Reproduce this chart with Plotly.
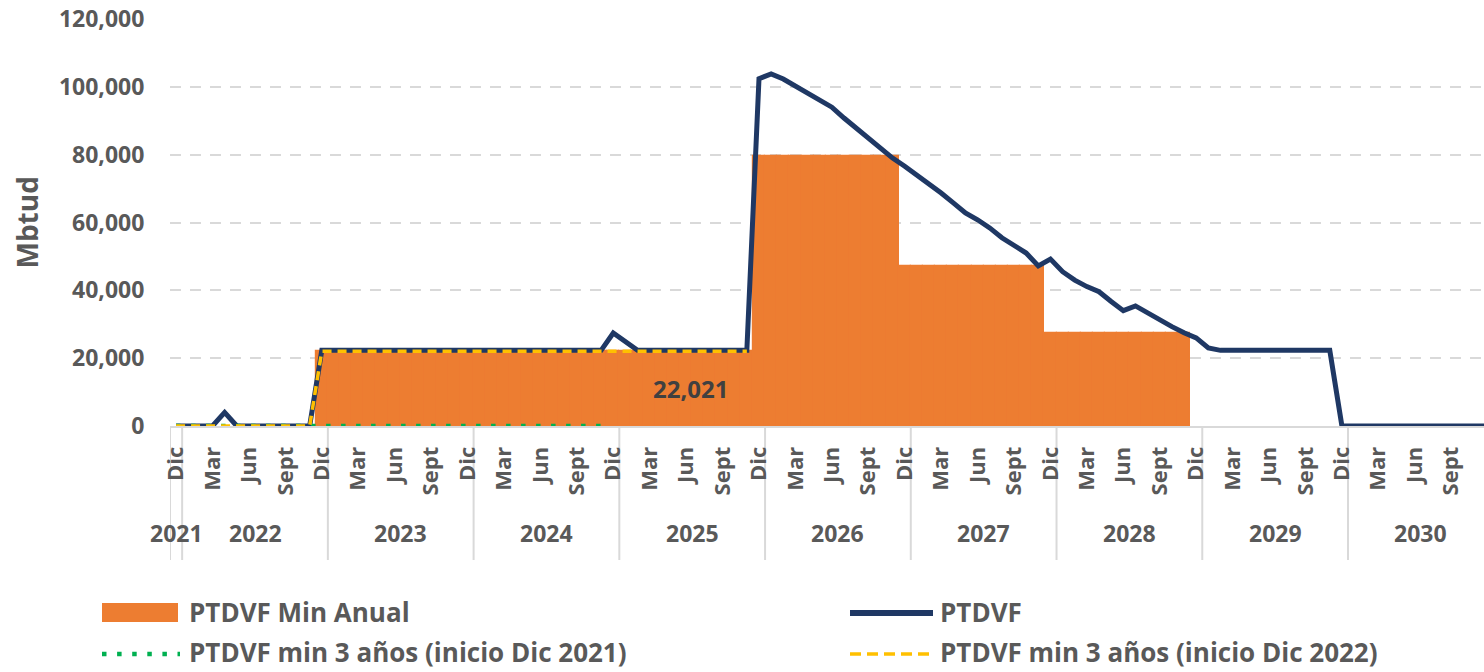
import plotly.graph_objects as go

# ---------------- data ----------------
MONTHS = ["Ene", "Feb", "Mar", "Abr", "May", "Jun", "Jul", "Ago", "Sept", "Oct", "Nov", "Dic"]
YEARS = [2022, 2023, 2024, 2025, 2026, 2027, 2028, 2029, 2030]
FIRST_CAT = "Dic 2021"
SHOWN_MONTHS = ["Dic", "Mar", "Jun", "Sept"]
YEAR_LABELS = ["2021", "2022", "2023", "2024", "2025", "2026", "2027", "2028", "2029", "2030"]

categories = [FIRST_CAT] + [f"{m} {y}" for y in YEARS for m in MONTHS]

ptdvf = [
    0, 0, 0, 0, 4000, 0, 0, 0, 0, 0, 0, 0,
    22300, 22300, 22300, 22300, 22300, 22300, 22300, 22300, 22300, 22300, 22300, 22300,
    22300, 22300, 22300, 22300, 22300, 22300, 22300, 22300, 22300, 22300, 22300, 22300,
    27400, 25000, 22300, 22300, 22300, 22300, 22300, 22300, 22300, 22300, 22300, 22300,
    102400, 103800, 102300, 100300, 98100, 96200, 94000, 90800, 87900, 85000, 82000, 79000,
    76600, 74000, 71600, 68700, 65800, 62800, 60800, 58400, 55500, 53400, 51000, 47200,
    49200, 45500, 43000, 41100, 39600, 36700, 34000, 35400, 33300, 31300, 29300, 27500,
    26000, 23000, 22300, 22300, 22300, 22300, 22300, 22300, 22300, 22300, 22300, 22300,
    0, 0, 0, 0, 0, 0, 0, 0, 0, 0, 0, 0, 0,
]

min_anual = [
    0, 0, 0, 0, 0, 0, 0, 0, 0, 0, 0, 0,
    22021, 22021, 22021, 22021, 22021, 22021, 22021, 22021, 22021, 22021, 22021, 22021,
    22021, 22021, 22021, 22021, 22021, 22021, 22021, 22021, 22021, 22021, 22021, 22021,
    22021, 22021, 22021, 22021, 22021, 22021, 22021, 22021, 22021, 22021, 22021, 22021,
    79500, 79500, 79500, 79500, 79500, 79500, 79500, 79500, 79500, 79500, 79500, 79500,
    47200, 47200, 47200, 47200, 47200, 47200, 47200, 47200, 47200, 47200, 47200, 47200,
    27300, 27300, 27300, 27300, 27300, 27300, 27300, 27300, 27300, 27300, 27300, 27300,
    0, 0, 0, 0, 0, 0, 0, 0, 0, 0, 0, 0,
    0, 0, 0, 0, 0, 0, 0, 0, 0, 0, 0, 0, 0,
]

min3_2021 = [
    0, 0, 0, 0, 0, 0, 0, 0, 0, 0, 0, 0,
    0, 0, 0, 0, 0, 0, 0, 0, 0, 0, 0, 0,
    0, 0, 0, 0, 0, 0, 0, 0, 0, 0, 0, 0,
]

min3_2022 = [
    0, 0, 0, 0, 0, 0, 0, 0, 0, 0, 0, 0,
    22021, 22021, 22021, 22021, 22021, 22021, 22021, 22021, 22021, 22021, 22021, 22021,
    22021, 22021, 22021, 22021, 22021, 22021, 22021, 22021, 22021, 22021, 22021, 22021,
    22021, 22021, 22021, 22021, 22021, 22021, 22021, 22021, 22021, 22021, 22021, 22021,
]

LABEL_VALUE = 22021
LABEL_CAT = "Jun 2025"

NAMES = ["PTDVF Min Anual", "PTDVF", "PTDVF min 3 años (inicio Dic 2021)", "PTDVF min 3 años (inicio Dic 2022)"]

# ---------------- style ----------------
ORANGE = "#ED7D31"
NAVY = "#1F3864"
GREEN = "#00B050"
YELLOW = "#FFC000"
GRID = "#D9D9D9"
TXT = "#595959"
FONT = "Open Sans"

W, H = 1484, 672
ML, MR, MT, MB = 170, 0, 19, 246
PW, PH = W - ML - MR, H - MT - MB


def px(X):
    return (X - ML) / PW


def py(Y):
    return (H - MB - Y) / PH


fig = go.Figure()

bar_edge = [1.2 if v else 0 for v in min_anual]
fig.add_trace(go.Bar(
    x=categories, y=min_anual, name=NAMES[0],
    marker=dict(color=ORANGE, line=dict(color=ORANGE, width=bar_edge)),
    width=1.0, showlegend=False, hoverinfo="skip",
))
fig.add_trace(go.Scatter(
    x=categories, y=ptdvf, name=NAMES[1], mode="lines",
    line=dict(color=NAVY, width=5), showlegend=False,
))
fig.add_trace(go.Scatter(
    x=categories[:len(min3_2021)], y=min3_2021, name=NAMES[2], mode="lines",
    line=dict(color=GREEN, width=4.5, dash="4.5px,10.5px"), showlegend=False,
))
fig.add_trace(go.Scatter(
    x=categories[:len(min3_2022)], y=min3_2022, name=NAMES[3], mode="lines",
    line=dict(color=YELLOW, width=3.5, dash="9px,6px"), showlegend=False,
))

# month tick labels
tickvals, ticktext = [], []
for c in categories:
    m = c.split(" ")[0]
    if m in SHOWN_MONTHS:
        tickvals.append(c)
        ticktext.append(m)

shapes = []
annotations = []

# year group dividers and labels
boundaries = [-0.5, 0.5] + [0.5 + 12 * (i + 1) for i in range(len(YEARS))]
for b in boundaries:
    if b <= len(categories) - 1:
        shapes.append(dict(type="line", xref="x", yref="paper", x0=b, x1=b,
                           y0=0, y1=py(560), line=dict(color=GRID, width=2), layer="below"))
year_centers = [0] + [0.5 + 12 * i + 6 for i in range(len(YEARS))]
for yl, xc in zip(YEAR_LABELS, year_centers):
    annotations.append(dict(x=xc, y=py(533), xref="x", yref="paper", text=yl, showarrow=False,
                            font=dict(family=FONT, size=23, color=TXT, weight="bold"),
                            xanchor="center", yanchor="middle"))

# data label
annotations.append(dict(x=LABEL_CAT, y=LABEL_VALUE / 2, xref="x", yref="y", text=f"{LABEL_VALUE:,}",
                        showarrow=False, xshift=4,
                        font=dict(family=FONT, size=24, color="#404040", weight="bold")))

# y-axis title
annotations.append(dict(x=px(26), y=0.5, xref="paper", yref="paper", text="Mbtud", textangle=-90,
                        showarrow=False, xanchor="center", yanchor="middle",
                        font=dict(family=FONT, size=28, color=TXT, weight="bold")))

# manual legend
LEGF = dict(family=FONT, size=26, color=TXT, weight="bold")
shapes.append(dict(type="rect", xref="paper", yref="paper", x0=px(102), x1=px(178), y0=py(622), y1=py(603),
                   fillcolor=ORANGE, line=dict(width=0)))
shapes.append(dict(type="line", xref="paper", yref="paper", x0=px(850), x1=px(933), y0=py(613), y1=py(613),
                   line=dict(color=NAVY, width=6)))
shapes.append(dict(type="line", xref="paper", yref="paper", x0=px(102), x1=px(180), y0=py(654), y1=py(654),
                   line=dict(color=GREEN, width=4.5, dash="4.5px,10.6px")))
shapes.append(dict(type="line", xref="paper", yref="paper", x0=px(850), x1=px(934), y0=py(654), y1=py(654),
                   line=dict(color=YELLOW, width=3.5, dash="11px,6px")))
for name, X, Y in [(NAMES[0], 187, 612), (NAMES[1], 938, 612), (NAMES[2], 187, 652), (NAMES[3], 938, 652)]:
    annotations.append(dict(x=px(X), y=py(Y), xref="paper", yref="paper", text=name, showarrow=False,
                            xanchor="left", yanchor="middle", font=LEGF))

fig.update_layout(
    width=W, height=H,
    margin=dict(l=ML, r=MR, t=MT, b=MB),
    paper_bgcolor="white", plot_bgcolor="white",
    bargap=0, showlegend=False,
    shapes=shapes, annotations=annotations,
    font=dict(family=FONT, color=TXT),
    xaxis=dict(
        type="category", categoryorder="array", categoryarray=categories,
        range=[-0.5, 107.7],
        tickmode="array", tickvals=tickvals, ticktext=ticktext, tickangle=-90,
        tickfont=dict(family=FONT, size=22, color=TXT, weight="bold"),
        ticks="outside", ticklen=10, tickcolor="rgba(0,0,0,0)",
        showgrid=False, showline=True, linecolor=GRID, linewidth=2, zeroline=False,
    ),
    yaxis=dict(
        range=[0, 120000], tickmode="array",
        tickvals=[0, 20000, 40000, 60000, 80000, 100000, 120000],
        tickformat=",", tickfont=dict(family=FONT, size=23, color=TXT, weight="bold"),
        ticks="outside", ticklen=20, tickcolor="rgba(0,0,0,0)",
        showgrid=True, gridcolor=GRID, gridwidth=2, griddash="11px,9px",
        showline=False, zeroline=False,
    ),
)

fig.write_html(
    "out.html",
    config={"displayModeBar": False},
    post_script="document.body.style.margin='0';document.body.style.overflow='hidden';",
)
